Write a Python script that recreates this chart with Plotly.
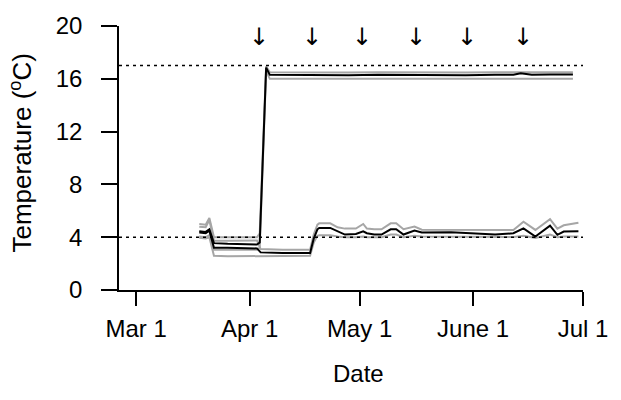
import plotly.graph_objects as go

# ---- data ----
warm_dates = ["2013-03-18 06:00", "2013-03-20", "2013-03-21", "2013-03-22 06:00", "2013-03-26",
              "2013-03-30", "2013-04-03", "2013-04-03 18:00", "2013-04-05 12:00", "2013-04-06 12:00",
              "2013-04-12", "2013-04-20", "2013-04-28", "2013-05-06", "2013-05-14", "2013-05-22",
              "2013-05-30", "2013-06-07", "2013-06-12", "2013-06-14", "2013-06-17", "2013-06-22",
              "2013-06-28 06:00"]
warm_mean = [4.45, 4.4, 4.6, 3.55, 3.5, 3.5, 3.45, 3.6, 16.85, 16.3,
             16.28, 16.3, 16.26, 16.3, 16.28, 16.3, 16.27, 16.3, 16.3, 16.42,
             16.3, 16.32, 16.33]
warm_max = [5.0, 4.95, 5.45, 4.0, 4.0, 4.0, 4.0, 4.3, 16.95, 16.5,
            16.48, 16.5, 16.47, 16.5, 16.48, 16.5, 16.47, 16.5, 16.5, 16.55,
            16.5, 16.5, 16.5]
warm_min = [4.05, 4.0, 4.15, 3.05, 3.05, 3.05, 3.05, 3.2, 16.6, 16.0,
            16.0, 16.02, 16.0, 16.0, 16.02, 16.0, 16.0, 16.02, 16.0, 16.05,
            16.0, 16.0, 16.0]

ctrl_dates = ["2013-03-18 06:00", "2013-03-20", "2013-03-21", "2013-03-22 06:00", "2013-03-26",
              "2013-03-30", "2013-04-03", "2013-04-04", "2013-04-10", "2013-04-17 12:00",
              "2013-04-18 12:00", "2013-04-19 12:00", "2013-04-20", "2013-04-23", "2013-04-25",
              "2013-04-27", "2013-04-30", "2013-05-02", "2013-05-03", "2013-05-05",
              "2013-05-07", "2013-05-09 12:00", "2013-05-11", "2013-05-13", "2013-05-16",
              "2013-05-18", "2013-05-26", "2013-06-01", "2013-06-07", "2013-06-12",
              "2013-06-14 18:00", "2013-06-18", "2013-06-22", "2013-06-24", "2013-06-25 18:00",
              "2013-06-29 18:00"]
ctrl_mean = [4.35, 4.3, 4.5, 3.2, 3.2, 3.18, 3.15, 2.85, 2.8, 2.8,
             3.9, 4.6, 4.7, 4.7, 4.45, 4.2, 4.25, 4.45, 4.3, 4.2,
             4.2, 4.6, 4.6, 4.2, 4.5, 4.35, 4.37, 4.3, 4.2, 4.3,
             4.67, 4.05, 4.87, 4.18, 4.43, 4.45]
ctrl_max = [4.8, 4.75, 5.3, 3.73, 3.73, 3.72, 3.75, 3.1, 3.05, 3.05,
            4.2, 4.95, 5.05, 5.05, 4.75, 4.65, 4.65, 5.0, 4.65, 4.6,
            4.6, 5.05, 5.05, 4.6, 4.8, 4.57, 4.57, 4.55, 4.55, 4.55,
            5.17, 4.55, 5.37, 4.65, 4.9, 5.1]
ctrl_min = [3.95, 3.9, 4.0, 2.6, 2.55, 2.55, 2.55, 2.6, 2.6, 2.6,
            3.6, 4.1, 4.15, 4.15, 4.05, 4.0, 4.0, 4.05, 4.0, 4.0,
            4.0, 4.2, 4.2, 4.0, 4.1, 4.05, 4.05, 4.02, 4.0, 4.02,
            4.1, 3.95, 4.2, 4.0, 4.05, 4.05]

ref_levels = [4, 17]
arrow_dates = ["2013-04-03 14:00", "2013-04-17 22:00", "2013-05-01 19:00",
               "2013-05-16 12:00", "2013-05-30 07:00", "2013-06-14 14:00"]
arrow_y = 19.2

x_tickvals = ["2013-03-01", "2013-04-01", "2013-05-01", "2013-06-01", "2013-07-01"]
x_ticktext = ["Mar 1", "Apr 1", "May 1", "June 1", "Jul 1"]
y_tickvals = [0, 4, 8, 12, 16, 20]

FONT = "Liberation Sans, Arial, Helvetica, sans-serif"
GREY = "#a6a6a6"

fig = go.Figure()
for dates, ys in [(warm_dates, warm_max), (warm_dates, warm_min),
                  (ctrl_dates, ctrl_max), (ctrl_dates, ctrl_min)]:
    fig.add_trace(go.Scatter(x=dates, y=ys, mode="lines",
                             line=dict(color=GREY, width=2), showlegend=False, hoverinfo="skip"))
for dates, ys in [(ctrl_dates, ctrl_mean), (warm_dates, warm_mean)]:
    fig.add_trace(go.Scatter(x=dates, y=ys, mode="lines",
                             line=dict(color="black", width=2), showlegend=False))

for lv in ref_levels:
    fig.add_shape(type="line", xref="paper", yref="y", x0=0, x1=1, y0=lv, y1=lv,
                  line=dict(color="black", width=1.5, dash="3px,4px"))

for d in arrow_dates:
    fig.add_annotation(x=d, y=arrow_y, xref="x", yref="y", text="\u2193", showarrow=False,
                       font=dict(family="DejaVu Sans", size=24, color="black"),
                       xanchor="center", yanchor="middle")

fig.add_annotation(x=0.517, y=-0.318, xref="paper", yref="paper", text="Date",
                   showarrow=False, font=dict(family=FONT, size=24, color="black"),
                   xanchor="center", yanchor="middle")
fig.add_annotation(x=-0.21, y=0.519, xref="paper", yref="paper",
                   text="Temperature (<sup>o</sup>C)", textangle=-90,
                   showarrow=False, font=dict(family=FONT, size=26, color="black"),
                   xanchor="center", yanchor="middle")

fig.update_layout(
    width=621, height=400, autosize=False,
    margin=dict(l=119, r=38, t=21, b=110, pad=0),
    plot_bgcolor="white", paper_bgcolor="white",
    font=dict(family=FONT, size=24, color="black"),
    xaxis=dict(type="date", range=["2013-02-24 08:00", "2013-07-01"],
               tickmode="array", tickvals=x_tickvals, ticktext=x_ticktext,
               ticks="outside", ticklen=14, tickwidth=1.5, tickcolor="black",
               showline=True, linewidth=1.5, linecolor="black",
               showgrid=False, zeroline=False, ticklabelstandoff=2,
               tickfont=dict(family=FONT, size=24, color="black")),
    yaxis=dict(range=[0, 20], tickmode="array", tickvals=y_tickvals,
               ticks="outside", ticklen=16, tickwidth=1.5, tickcolor="black",
               showline=True, linewidth=1.5, linecolor="black",
               showgrid=False, zeroline=False, ticklabelstandoff=14,
               tickfont=dict(family=FONT, size=24, color="black")),
)

fig.write_html("out.html")
